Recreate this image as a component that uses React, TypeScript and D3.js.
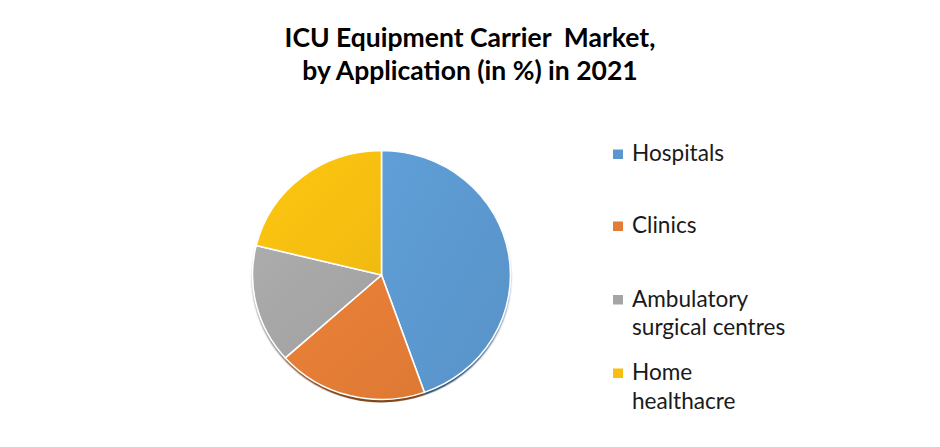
import React from "react";
import * as d3 from "d3";

const categories = ["Hospitals", "Clinics", "Ambulatory surgical centres", "Home healthacre"];
const values = [44.6, 18.8, 15.4, 21.2];
const legendLines = [["Hospitals"], ["Clinics"], ["Ambulatory", "surgical centres"], ["Home", "healthacre"]];
const colors = ["#5B97CE", "#E37C36", "#A5A5A5", "#F8BF10"];
const titleLines = ["ICU Equipment Carrier  Market,", "by Application (in %) in 2021"];

const W = 940;
const H = 447;
const cx = 381.5;
const cy = 275;
const R = 129;
const squash = 0.965;

const legendY = [161, 233, 306.5, 380];

export default function App() {
  const pie = d3.pie<number>().sort(null).value((d) => d)(values);
  const arc = d3.arc<d3.PieArcDatum<number>>().innerRadius(0).outerRadius(R);
  const font = "Lato, 'Open Sans', sans-serif";
  return (
    <svg width={W} height={H} style={{ position: "absolute", left: 0, top: 0, background: "#fff" }}>
      <defs>
        <filter id="sh" x="-20%" y="-20%" width="140%" height="140%">
          <feGaussianBlur stdDeviation="0.8" />
        </filter>
        {colors.map((c, i) => (
          <linearGradient key={i} id={"g" + i} x1="0" y1="0" x2="1" y2="1">
            <stop offset="0" stopColor={d3.color(c)!.brighter(0.12).formatHex()} />
            <stop offset="1" stopColor={d3.color(c)!.darker(0.08).formatHex()} />
          </linearGradient>
        ))}
      </defs>
      <g transform={`translate(${cx},${cy}) scale(1,${squash})`}>
        <g transform="translate(0,3)" filter="url(#sh)">
          {pie.map((p, i) => (
            <path key={i} d={arc(p) || ""} fill={d3.color(colors[i])!.darker(1.6).formatHex()} />
          ))}
        </g>
        {pie.map((p, i) => (
          <path key={i} d={arc(p) || ""} fill={`url(#g${i})`} stroke="#fff" strokeWidth={1.6} strokeLinejoin="round" />
        ))}
      </g>
      <g fontFamily={font} fontWeight="bold" fontSize={26.5} fill="#000" textAnchor="middle">
        {titleLines.map((t, i) => (
          <text key={i} x={470} y={47 + i * 33} xmlSpace="preserve">{t}</text>
        ))}
      </g>
      <g fontFamily={font} fontSize={22.6} fill="#1a1a1a">
        {categories.map((c, i) => (
          <g key={c}>
            <rect x={613} y={legendY[i] - 11.5} width={10} height={9.5} fill={colors[i]} />
            {legendLines[i].map((l, j) => (
              <text key={j} x={632} y={legendY[i] + j * 28.8}>{l}</text>
            ))}
          </g>
        ))}
      </g>
    </svg>
  );
}
